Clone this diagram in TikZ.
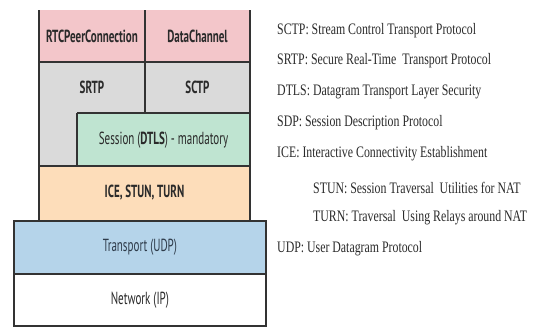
\documentclass[tikz,border=0pt]{standalone}
\usepackage{fontspec}
\setmainfont[FakeStretch=0.74]{Liberation Serif}
\newfontfamily\labfont[FakeStretch=0.63]{PT Sans}
\definecolor{pinkc}{HTML}{F3C6CA}
\definecolor{grayc}{HTML}{DADADA}
\definecolor{greenc}{HTML}{BFE4D1}
\definecolor{orangec}{HTML}{FDDDBA}
\definecolor{bluec}{HTML}{B5D4EA}
\definecolor{linec}{HTML}{333333}
\definecolor{txtc}{HTML}{2A2A2A}
\definecolor{udptxt}{HTML}{2E3B4A}
\begin{document}
\begin{tikzpicture}[x=1pt,y=-1pt,
  cell/.style={inner sep=0pt, outer sep=0pt, font=\labfont\fontsize{17.5}{19}\selectfont, text=txtc},
  bold/.style={cell, font=\labfont\bfseries\fontsize{17.5}{19}\selectfont},
  legend/.style={anchor=west, inner sep=0pt, font=\fontsize{16}{18}\selectfont, text=txtc},
  thin/.style={draw=linec, line width=1.2pt},
  thick/.style={draw=linec, line width=1.8pt}]
\useasboundingbox (0,0) rectangle (533,327);
% fills
\fill[pinkc] (39,10) rectangle (250,62);
\fill[grayc] (39,62) -- (250,62) -- (250,113) -- (77,113) -- (77,166) -- (39,166) -- cycle;
\fill[greenc] (77,113) rectangle (250,166);
\fill[orangec] (39,166) rectangle (250,220);
% coordinates
\coordinate (tl) at (39,10);
\coordinate (tr) at (250,10);
\coordinate (tm) at (145,10);
\coordinate (ml) at (39,62);
\coordinate (mr) at (250,62);
\coordinate (mm) at (145,62);
\coordinate (sm) at (145,113);
\coordinate (sl) at (77,113);
\coordinate (sr) at (250,113);
\coordinate (sb) at (77,166);
\coordinate (il) at (39,166);
\coordinate (ir) at (250,166);
\coordinate (bl) at (39,220);
\coordinate (br) at (250,220);
% outlines upper stack
\draw[thin] (tl) -- (bl);
\draw[thin] (tr) -- (br);
\draw[thin] (tm) -- (sm);
\draw[thin] (ml) -- (mr);
\draw[thin] (sl) -- (sr);
\draw[thin] (sl) -- (sb);
\draw[thin] (il) -- (ir);
% lower boxes
\node[thick, fill=bluec, inner sep=0pt, minimum width=252pt, minimum height=53pt, anchor=north west] (udpbox) at (13,220) {};
\node[thick, fill=white, inner sep=0pt, minimum width=252pt, minimum height=52pt, anchor=north west] (ipbox) at (13,273) {};
% labels
\node[bold] (rtc) at (92,36) {RTCPeerConnection};
\node[bold] (dc) at (197.5,36) {DataChannel};
\node[bold] (srtp) at (92,87) {SRTP};
\node[bold] (sctp) at (197.5,87) {SCTP};
\node[cell] (dtls) at (163.5,140) {Session (\textbf{DTLS}) - mandatory};
\node[bold] (ice) at (144.5,193) {ICE, STUN, TURN};
\node[cell, text=udptxt] (udp) at (udpbox.center) {Transport (UDP)};
\node[cell] (ip) at (ipbox.center) {Network (IP)};
% legend
\node[legend] (l1) at (277,31) {SCTP: Stream Control Transport Protocol};
\node[legend] (l2) at (277,61) {SRTP: Secure Real-Time\ \ Transport Protocol};
\node[legend] (l3) at (277,92) {DTLS: Datagram Transport Layer Security};
\node[legend] (l4) at (277,123) {SDP: Session Description Protocol};
\node[legend] (l5) at (277,154) {ICE: Interactive Connectivity Establishment};
\node[legend] (l6) at (313,188) {STUN: Session Traversal\ \ Utilities for NAT};
\node[legend] (l7) at (313,218) {TURN: Traversal\ \ Using Relays around NAT};
\node[legend] (l8) at (277,249) {UDP: User Datagram Protocol};
\end{tikzpicture}
\end{document}
